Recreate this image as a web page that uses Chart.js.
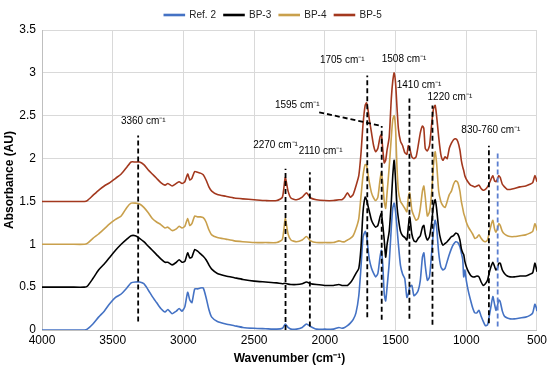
<!DOCTYPE html>
<html>
<head>
<meta charset="utf-8">
<script src="https://cdn.jsdelivr.net/npm/chart.js@4/dist/chart.umd.min.js"></script>
<style>
html,body{margin:0;padding:0;background:#fff;}
#wrap{width:550px;height:370px;position:relative;}
</style>
</head>
<body>
<div id="wrap"><canvas id="c" width="550" height="370"></canvas></div>
<script>
// Wavenumbers (cm-1), shared by all series
const wavenumbers = [
 4000,3900,3800,3700,3680,3640,3600,3560,3520,3480,
 3440,3400,3370,3340,3310,3280,3250,3220,3190,3160,
 3130,3110,3080,3050,3030,3010,2990,2970,2955,2940,
 2920,2900,2880,2860,2840,2820,2800,2760,2700,2640,
 2580,2500,2420,2340,2300,2280,2260,2240,2200,2160,
 2130,2100,2060,2000,1940,1900,1880,1860,1840,1820,
 1800,1780,1760,1745,1730,1715,1705,1695,1685,1670,
 1655,1640,1625,1610,1600,1590,1580,1570,1560,1545,
 1530,1520,1510,1500,1490,1480,1465,1450,1435,1420,
 1410,1400,1385,1370,1355,1340,1325,1310,1300,1290,
 1275,1260,1245,1232,1220,1210,1195,1180,1165,1150,
 1135,1120,1105,1090,1075,1060,1045,1035,1025,1018,
 1010,1000,985,970,955,940,925,910,895,880,
 865,850,840,825,812,800,790,780,770,760,
 745,730,710,690,660,620,580,550,530,515,
 505,500
];

const ref2 = [
 0,0,0,0,0.01,0.07,0.15,0.22,0.31,0.38,
 0.42,0.49,0.55,0.56,0.56,0.54,0.47,0.39,0.32,0.25,
 0.21,0.24,0.19,0.22,0.25,0.22,0.27,0.44,0.35,0.32,
 0.48,0.48,0.49,0.49,0.38,0.24,0.15,0.10,0.07,0.05,
 0.03,0.02,0.015,0.01,0.02,0.07,0.03,0.01,0.01,0.03,
 0.07,0.04,0.01,0.01,0.01,0.03,0.02,0.03,0.05,0.08,
 0.12,0.2,0.4,0.72,1.08,1.15,1.10,0.95,0.82,0.72,
 0.66,0.62,0.66,0.85,0.93,0.75,0.42,0.34,0.5,0.78,
 1.2,1.42,1.48,1.38,1.2,1.0,0.75,0.65,0.6,0.38,
 0.42,0.5,0.52,0.4,0.42,0.46,0.58,0.85,0.9,0.75,
 0.58,0.62,0.9,1.15,1.28,1.2,0.9,0.74,0.7,0.72,
 0.8,0.88,0.95,1.0,1.03,1.02,0.97,0.9,0.82,0.62,
 0.7,0.58,0.45,0.35,0.26,0.2,0.2,0.23,0.16,0.1,
 0.05,0.06,0.14,0.28,0.39,0.3,0.23,0.28,0.35,0.33,
 0.22,0.16,0.14,0.13,0.13,0.14,0.15,0.17,0.2,0.3,
 0.26,0.22
];

const bp3 = [
 0.5,0.5,0.5,0.5,0.51,0.6,0.7,0.77,0.85,0.93,
 1.0,1.06,1.1,1.1,1.07,1.03,0.98,0.93,0.88,0.83,
 0.79,0.79,0.76,0.79,0.82,0.79,0.8,0.9,0.84,0.85,
 0.94,0.92,0.89,0.86,0.82,0.76,0.71,0.66,0.63,0.61,
 0.59,0.57,0.56,0.55,0.54,0.545,0.535,0.53,0.53,0.54,
 0.56,0.54,0.53,0.52,0.52,0.53,0.52,0.52,0.52,0.55,
 0.6,0.66,0.72,0.95,1.38,1.55,1.52,1.45,1.38,1.28,
 1.23,1.2,1.22,1.32,1.36,1.22,1.05,0.85,1.0,1.15,
 1.5,1.8,1.98,1.75,1.45,1.3,1.15,1.1,1.08,1.05,
 1.2,1.32,1.12,1.04,1.03,1.07,1.1,1.2,1.22,1.12,
 1.05,1.09,1.25,1.45,1.52,1.42,1.18,1.05,0.99,1.01,
 1.03,1.06,1.09,1.1,1.13,1.12,1.05,0.95,0.9,0.88,
 0.8,0.74,0.68,0.64,0.62,0.62,0.63,0.62,0.56,0.52,
 0.54,0.58,0.65,0.74,0.79,0.74,0.7,0.72,0.78,0.78,
 0.7,0.66,0.63,0.62,0.62,0.63,0.63,0.65,0.67,0.78,
 0.72,0.68
];

const bp4 = [
 1.0,1.0,1.0,1.0,1.01,1.07,1.12,1.18,1.24,1.29,
 1.33,1.43,1.48,1.48,1.47,1.43,1.37,1.30,1.26,1.23,
 1.19,1.2,1.16,1.18,1.21,1.19,1.21,1.30,1.22,1.24,
 1.33,1.32,1.32,1.31,1.26,1.17,1.11,1.08,1.06,1.04,
 1.03,1.02,1.02,1.02,1.06,1.30,1.12,1.05,1.03,1.05,
 1.09,1.04,1.02,1.02,1.02,1.04,1.03,1.03,1.05,1.07,
 1.1,1.18,1.3,1.55,1.8,1.93,1.92,1.82,1.72,1.6,
 1.54,1.51,1.55,1.75,1.84,1.7,1.5,1.42,1.6,1.9,
 2.25,2.45,2.5,2.35,1.9,1.62,1.5,1.46,1.42,1.38,
 1.55,1.6,1.4,1.33,1.28,1.3,1.42,1.62,1.68,1.55,
 1.33,1.38,1.6,1.92,2.08,1.95,1.62,1.5,1.45,1.43,
 1.5,1.58,1.62,1.7,1.74,1.72,1.62,1.5,1.42,1.36,
 1.32,1.26,1.2,1.16,1.12,1.07,1.08,1.11,1.07,1.04,
 1.03,1.05,1.12,1.22,1.28,1.18,1.14,1.18,1.24,1.22,
 1.15,1.12,1.1,1.09,1.09,1.1,1.11,1.13,1.15,1.24,
 1.2,1.16
];

const bp5 = [
 1.5,1.5,1.5,1.5,1.51,1.57,1.63,1.68,1.72,1.77,
 1.82,1.9,1.96,1.96,1.96,1.93,1.87,1.82,1.77,1.72,
 1.69,1.71,1.68,1.71,1.73,1.71,1.73,1.82,1.75,1.77,
 1.85,1.84,1.83,1.81,1.75,1.67,1.62,1.58,1.56,1.54,
 1.53,1.52,1.51,1.51,1.55,1.78,1.62,1.54,1.52,1.55,
 1.6,1.54,1.52,1.51,1.51,1.52,1.52,1.55,1.6,1.55,
 1.58,1.68,1.8,2.05,2.4,2.62,2.65,2.57,2.45,2.3,
 2.15,2.08,2.12,2.25,2.28,2.1,1.95,1.98,2.1,2.25,
 2.7,2.9,3.0,2.88,2.6,2.35,2.2,2.15,2.07,2.05,
 2.15,2.12,2.02,2.0,2.02,2.15,2.3,2.38,2.35,2.12,
 2.09,2.15,2.4,2.58,2.62,2.5,2.25,2.05,1.98,2.02,
 2.0,2.12,2.18,2.22,2.23,2.2,2.1,1.98,1.9,1.86,
 1.8,1.76,1.72,1.69,1.68,1.67,1.68,1.69,1.65,1.63,
 1.64,1.67,1.7,1.76,1.8,1.74,1.73,1.76,1.8,1.78,
 1.7,1.67,1.64,1.64,1.65,1.67,1.68,1.7,1.72,1.8,
 1.76,1.73
];

const seriesNames = ['Ref. 2','BP-3','BP-4','BP-5'];
const seriesColors = ['#4472C4','#000000','#C9A04C','#A3381E'];

// Peak marker lines (wavenumber, bottom, top)
const markerX =      [3320, 2278, 2106, 1700, 1598, 1402, 1239, 840, 778];
const markerBottom = [0.10, 0.00, 0.04, 0.15, 0.12, 0.13, 0.06, 0.08, 0.04];
const markerTop =    [2.27, 1.88, 1.84, 2.97, 2.38, 2.70, 2.62, 2.15, 2.09];
const markerColors = ['#000','#000','#000','#000','#000','#000','#000','#000','#5B7FD0'];
// Leader line for the 1595 label
const leaderX = [2040, 1598];
const leaderY = [2.54, 2.38];

// Annotation labels
const annoText = ['3360 cm⁻¹','2270 cm⁻¹','2110 cm⁻¹','1705 cm⁻¹','1508 cm⁻¹','1595 cm⁻¹','1410 cm⁻¹','1220 cm⁻¹','830-760 cm⁻¹'];
const annoX =    [3284, 2349, 2030, 1877, 1440, 2195, 1334, 1116, 826];
const annoY =    [2.43, 2.16, 2.09, 3.15, 3.16, 2.62, 2.85, 2.71, 2.33];

const spectra = [ref2, bp3, bp4, bp5];
const datasets = [];
spectra.forEach((vals, i) => {
  datasets.push({
    label: seriesNames[i],
    data: wavenumbers.map((w, j) => ({x: w, y: vals[j]})),
    borderColor: seriesColors[i],
    backgroundColor: seriesColors[i],
    borderWidth: 1.6,
    pointRadius: 0,
    tension: 0.2,
    order: 4 - i
  });
});
markerX.forEach((w, i) => {
  datasets.push({
    label: '_m' + i,
    data: [{x: w, y: markerBottom[i]}, {x: w, y: markerTop[i]}],
    borderColor: markerColors[i],
    borderWidth: 1.8,
    borderDash: [5, 3],
    pointRadius: 0,
    order: 0
  });
});
datasets.push({
  label: '_leader',
  data: leaderX.map((w, i) => ({x: w, y: leaderY[i]})),
  borderColor: '#000',
  borderWidth: 1.8,
  borderDash: [5, 3],
  pointRadius: 0,
  order: 0
});

const annoPlugin = {
  id: 'anno',
  afterDatasetsDraw(chart) {
    const ctx = chart.ctx;
    const xs = chart.scales.x, ys = chart.scales.y;
    ctx.save();
    ctx.fillStyle = '#000';
    ctx.font = '10px "Liberation Sans", Arial, sans-serif';
    ctx.textAlign = 'center';
    ctx.textBaseline = 'middle';
    annoText.forEach((t, i) => {
      ctx.fillText(t, xs.getPixelForValue(annoX[i]), ys.getPixelForValue(annoY[i]));
    });
    ctx.restore();
  }
};

const FONT = '"Liberation Sans", Arial, sans-serif';
new Chart(document.getElementById('c'), {
  type: 'line',
  data: { datasets },
  options: {
    responsive: false,
    animation: false,
    layout: { padding: { top: 2, right: 6, left: 2, bottom: 0 } },
    plugins: {
      tooltip: { enabled: false },
      legend: {
        position: 'top',
        labels: {
          font: { family: FONT, size: 10 },
          color: '#222',
          boxWidth: 20,
          boxHeight: 1,
          padding: 8,
          filter: (item) => !item.text.startsWith('_'),
          sort: (a, b) => a.datasetIndex - b.datasetIndex
        }
      }
    },
    scales: {
      x: {
        type: 'linear',
        reverse: true,
        min: 500, max: 4000,
        ticks: { stepSize: 500, font: { family: FONT, size: 12 }, color: '#000', maxRotation: 0,
                 callback: (v) => String(v) },
        grid: { color: '#d9d9d9', drawTicks: false },
        border: { color: '#bfbfbf' },
        title: { display: true, text: 'Wavenumber (cm⁻¹)', font: { family: FONT, size: 12, weight: 'bold' }, color: '#000', padding: { top: 2 } },
        afterFit(s) { s.height = 40; }
      },
      y: {
        min: 0, max: 3.5,
        ticks: { stepSize: 0.5, font: { family: FONT, size: 12 }, color: '#000', padding: 6,
                 callback: (v) => String(v) },
        grid: { color: '#d9d9d9', drawTicks: false },
        border: { color: '#bfbfbf' },
        title: { display: true, text: 'Absorbance (AU)', font: { family: FONT, size: 12, weight: 'bold' }, color: '#000', padding: 0 },
        afterFit(s) { s.width = 40; }
      }
    }
  },
  plugins: [annoPlugin]
});
</script>
</body>
</html>
